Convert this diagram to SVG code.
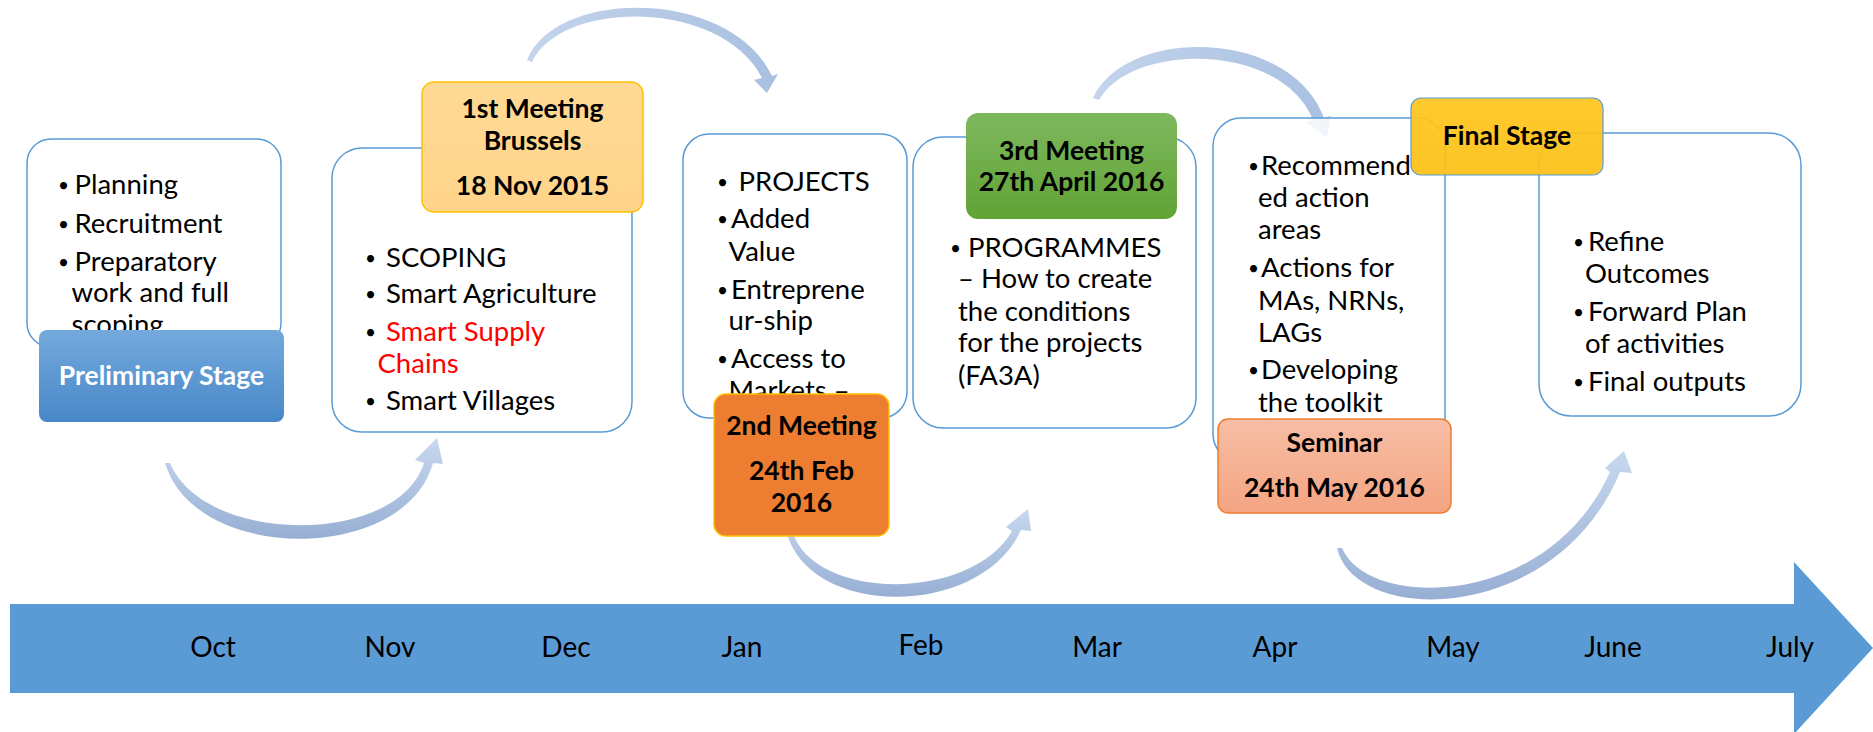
<svg xmlns="http://www.w3.org/2000/svg" width="1873" height="732" viewBox="0 0 1873 732">
<defs>
<linearGradient id="gU" x1="0" y1="0" x2="0" y2="1"><stop offset="0" stop-color="#C8D8EF"/><stop offset="1" stop-color="#97AFD4"/></linearGradient>
<linearGradient id="gT" x1="0" y1="0" x2="1" y2="0"><stop offset="0" stop-color="#C3D4EC"/><stop offset="1" stop-color="#A9C0E1"/></linearGradient>
<linearGradient id="gPre" x1="0" y1="0" x2="0" y2="1"><stop offset="0" stop-color="#74A9DD"/><stop offset="1" stop-color="#4888C8"/></linearGradient>
<linearGradient id="gM1" x1="0" y1="0" x2="0" y2="1"><stop offset="0" stop-color="#FFDA95"/><stop offset="1" stop-color="#FFD48A"/></linearGradient>
<linearGradient id="gM3" x1="0" y1="0" x2="0" y2="1"><stop offset="0" stop-color="#7EB85E"/><stop offset="1" stop-color="#61A335"/></linearGradient>
<linearGradient id="gFin" x1="0" y1="0" x2="0" y2="1"><stop offset="0" stop-color="#FFC61E"/><stop offset="1" stop-color="#FCC014"/></linearGradient>
<linearGradient id="gSem" x1="0" y1="0" x2="0" y2="1"><stop offset="0" stop-color="#F7BEA5"/><stop offset="1" stop-color="#F4A482"/></linearGradient>
</defs>
<style>
.box{fill:#FFFFFF;stroke:#5B9BD5;stroke-width:1.5}
.t{font-family:Lato,"Liberation Sans",sans-serif;font-size:27.5px;fill:#000}
.bu{font-size:19px}
.b{font-family:Lato,"Liberation Sans",sans-serif;font-size:26.5px;font-weight:bold;fill:#000;text-anchor:middle}
.m{font-family:Lato,"Liberation Sans",sans-serif;font-size:28px;fill:#000;text-anchor:middle}
.red{fill:#FF0000}
</style>

<g id="timeline">
<polygon points="10,604 1794,604 1794,562 1873,648 1794,734 1794,693 10,693" fill="#5B9BD5"/>
<text class="m" x="213" y="657">Oct</text>
<text class="m" x="390" y="657">Nov</text>
<text class="m" x="566" y="657">Dec</text>
<text class="m" x="742" y="657">Jan</text>
<text class="m" x="921" y="655">Feb</text>
<text class="m" x="1097" y="657">Mar</text>
<text class="m" x="1275" y="657">Apr</text>
<text class="m" x="1453" y="657">May</text>
<text class="m" x="1613" y="657">June</text>
<text class="m" x="1790" y="657">July</text>
</g>

<g id="connectors">
<path d="M165,463 C195,564 405,564 433,463 L443,464 L437,438 L415,460 L424,463 C398,546 205,546 170,463 Z" fill="url(#gU)"/>
<path d="M527,60 C556,-12 730,-12 772,76 L778,74 L767,93 L754,80 L762,78 C722,-1 562,-1 532,62 Z" fill="url(#gT)"/>
<path d="M786,530 C806,618 980,620 1021,530 L1031,531 L1028,509 L1006,527 L1012,531 C972,602 812,602 792,530 Z" fill="url(#gU)"/>
<path d="M1093,98 C1125,27 1290,27 1324,118 L1331,116 L1327,138 L1306,122 L1313,120 C1282,42 1132,42 1099,100 Z" fill="url(#gT)"/>
<path d="M1337,548 C1355,626 1556,626 1620,472 L1632,473 L1624,451 L1605,468 L1610,472 C1548,610 1368,610 1342,548 Z" fill="url(#gU)"/>
</g>

<g id="preliminary">
<rect class="box" x="27" y="139" width="254" height="208" rx="24"/>
<text class="t"><tspan class="bu" x="58" y="192">•</tspan><tspan x="74.5" y="194">Planning</tspan></text>
<text class="t"><tspan class="bu" x="58" y="231">•</tspan><tspan x="74.5" y="233">Recruitment</tspan></text>
<text class="t"><tspan class="bu" x="58" y="269">•</tspan><tspan x="74.5" y="271">Preparatory</tspan></text>
<text class="t" x="71.5" y="302">work and full</text>
<text class="t" x="71.5" y="334">scoping</text>
<rect x="39" y="330" width="245" height="92" rx="8" fill="url(#gPre)"/>
<text class="b" x="161.5" y="385" style="fill:#FFFFFF">Preliminary Stage</text>
</g>

<g id="meeting1">
<rect class="box" x="332" y="148" width="300" height="284" rx="30"/>
<text class="t"><tspan class="bu" x="365" y="265">•</tspan><tspan x="386" y="267">SCOPING</tspan></text>
<text class="t"><tspan class="bu" x="365" y="301">•</tspan><tspan x="386" y="303">Smart Agriculture</tspan></text>
<text class="t"><tspan class="bu" x="365" y="339">•</tspan><tspan x="386" y="341" class="red">Smart Supply</tspan></text>
<text class="t red" x="377.5" y="373">Chains</text>
<text class="t"><tspan class="bu" x="365" y="408">•</tspan><tspan x="386" y="410">Smart Villages</tspan></text>
<rect x="422" y="82" width="221" height="130" rx="12" fill="url(#gM1)" stroke="#FFC000" stroke-width="1.5"/>
<text class="b" x="532.5" y="118">1st Meeting</text>
<text class="b" x="532.5" y="150">Brussels</text>
<text class="b" x="532.5" y="195">18 Nov 2015</text>
</g>

<g id="meeting2">
<rect class="box" x="683" y="134" width="224" height="284" rx="26"/>
<text class="t"><tspan class="bu" x="717" y="189">•</tspan><tspan x="738.6" y="191">PROJECTS</tspan></text>
<text class="t"><tspan class="bu" x="717" y="226">•</tspan><tspan x="731" y="228">Added</tspan></text>
<text class="t" x="728.6" y="261">Value</text>
<text class="t"><tspan class="bu" x="717" y="297">•</tspan><tspan x="731" y="299">Entreprene</tspan></text>
<text class="t" x="728.6" y="330">ur-ship</text>
<text class="t"><tspan class="bu" x="717" y="366">•</tspan><tspan x="731" y="368">Access to</tspan></text>
<text class="t" x="728.6" y="400">Markets –</text>
<rect x="714" y="394" width="175" height="142" rx="12" fill="#ED7D31" stroke="#FFC000" stroke-width="1.5"/>
<text class="b" x="801.5" y="435">2nd Meeting</text>
<text class="b" x="801.5" y="480">24th Feb</text>
<text class="b" x="801.5" y="512">2016</text>
</g>

<g id="meeting3">
<rect class="box" x="913" y="137" width="283" height="291" rx="30"/>
<text class="t"><tspan class="bu" x="950" y="255">•</tspan><tspan x="968" y="257">PROGRAMMES</tspan></text>
<text class="t" x="958" y="288">– How to create</text>
<text class="t" x="958" y="321">the conditions</text>
<text class="t" x="958" y="352">for the projects</text>
<text class="t" x="958" y="385">(FA3A)</text>
<rect x="966" y="113" width="211" height="106" rx="12" fill="url(#gM3)"/>
<text class="b" x="1071.5" y="160">3rd Meeting</text>
<text class="b" x="1071.5" y="191">27th April 2016</text>
</g>

<g id="seminar">
<rect class="box" x="1213" y="118" width="232" height="344" rx="28" style="fill-opacity:0.85"/>
<text class="t"><tspan class="bu" x="1248" y="173">•</tspan><tspan x="1261" y="175">Recommend</tspan></text>
<text class="t" x="1258" y="207">ed action</text>
<text class="t" x="1258" y="239">areas</text>
<text class="t"><tspan class="bu" x="1248" y="275">•</tspan><tspan x="1261" y="277">Actions for</tspan></text>
<text class="t" x="1258" y="310">MAs, NRNs,</text>
<text class="t" x="1258" y="342">LAGs</text>
<text class="t"><tspan class="bu" x="1248" y="377">•</tspan><tspan x="1261" y="379">Developing</tspan></text>
<text class="t" x="1258" y="412">the toolkit</text>
<rect x="1218" y="419" width="233" height="94" rx="10" fill="url(#gSem)" stroke="#ED7D31" stroke-width="1.5"/>
<text class="b" x="1334.5" y="452">Seminar</text>
<text class="b" x="1334.5" y="497">24th May 2016</text>
</g>

<g id="final">
<rect class="box" x="1539" y="133" width="262" height="283" rx="32"/>
<text class="t"><tspan class="bu" x="1573" y="249">•</tspan><tspan x="1588" y="251">Refine</tspan></text>
<text class="t" x="1585" y="283">Outcomes</text>
<text class="t"><tspan class="bu" x="1573" y="319">•</tspan><tspan x="1588" y="321">Forward Plan</tspan></text>
<text class="t" x="1585" y="353">of activities</text>
<text class="t"><tspan class="bu" x="1573" y="389">•</tspan><tspan x="1588" y="391">Final outputs</tspan></text>
<rect x="1411" y="98" width="192" height="77" rx="10" fill="url(#gFin)" fill-opacity="0.93" stroke="#5B9BD5" stroke-width="1.2"/>
<text class="b" x="1507" y="145">Final Stage</text>
</g>
</svg>
